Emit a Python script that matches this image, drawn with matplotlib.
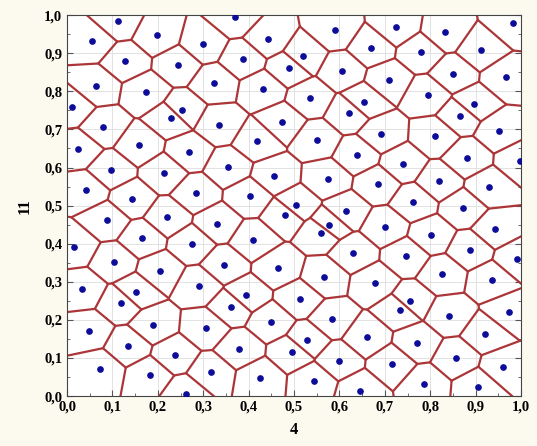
import numpy as np
import matplotlib
matplotlib.use('Agg')
import matplotlib.pyplot as plt
import matplotlib.tri as mtri
from matplotlib.ticker import FuncFormatter, MultipleLocator

# generator points (variable "4" on x, "11" on y)
x_vals = [
    0.112, 0.056, 0.198, 0.300, 0.128, 0.245, 0.324, 0.064, 0.174, 0.010, 0.253, 0.229, 0.080, 0.335,
    0.370, 0.442, 0.590, 0.387, 0.520, 0.488, 0.606, 0.432, 0.534, 0.653, 0.621, 0.474, 0.550, 0.418,
    0.724, 0.833, 0.983, 0.670, 0.779, 0.911, 0.708, 0.850, 0.967, 0.794, 0.896, 0.866, 0.692, 0.811, 0.952,
    0.025, 0.159, 0.269, 0.097, 0.214, 0.042, 0.143, 0.283, 0.087, 0.221, 0.331, 0.016, 0.166, 0.275, 0.103, 0.205,
    0.638, 0.355, 0.456, 0.574, 0.402, 0.504, 0.615, 0.480, 0.577, 0.559, 0.410, 0.630, 0.346, 0.465,
    0.739, 0.880, 0.998, 0.684, 0.819, 0.929, 0.763, 0.873, 0.701, 0.943, 0.802, 0.888, 0.747, 0.991,
    0.033, 0.151, 0.291, 0.119, 0.048, 0.189, 0.306, 0.134, 0.237, 0.073, 0.182, 0.316, 0.261,
    0.567, 0.394, 0.512, 0.362, 0.449, 0.583, 0.528, 0.660, 0.379, 0.496, 0.598, 0.425, 0.543, 0.646,
    0.826, 0.935, 0.678, 0.756, 0.733, 0.974, 0.842, 0.921, 0.771, 0.857, 0.716, 0.960, 0.787, 0.905,
]
y_vals = [
    0.985, 0.931, 0.947, 0.924, 0.879, 0.870, 0.822, 0.814, 0.798, 0.759, 0.751, 0.730, 0.706, 0.712,
    0.995, 0.938, 0.961, 0.885, 0.893, 0.861, 0.854, 0.806, 0.782, 0.773, 0.742, 0.720, 0.673, 0.669,
    0.970, 0.955, 0.979, 0.915, 0.902, 0.909, 0.830, 0.846, 0.837, 0.790, 0.766, 0.736, 0.688, 0.682, 0.696,
    0.649, 0.658, 0.640, 0.593, 0.586, 0.540, 0.517, 0.532, 0.462, 0.469, 0.453, 0.392, 0.414, 0.399, 0.352, 0.329,
    0.633, 0.601, 0.578, 0.571, 0.524, 0.501, 0.486, 0.476, 0.449, 0.429, 0.409, 0.375, 0.344, 0.337,
    0.610, 0.625, 0.618, 0.556, 0.564, 0.548, 0.509, 0.493, 0.445, 0.438, 0.422, 0.384, 0.367, 0.360,
    0.281, 0.273, 0.290, 0.243, 0.171, 0.187, 0.178, 0.131, 0.108, 0.071, 0.054, 0.062, 0.006,
    0.312, 0.265, 0.256, 0.234, 0.195, 0.202, 0.147, 0.155, 0.124, 0.115, 0.093, 0.047, 0.039, 0.014,
    0.320, 0.304, 0.297, 0.249, 0.227, 0.220, 0.211, 0.163, 0.140, 0.100, 0.084, 0.076, 0.031, 0.023,
]

x = np.array(x_vals)
y = np.array(y_vals)

# Voronoi edges from the Delaunay triangulation
tri = mtri.Triangulation(x, y)
T = tri.triangles
ax_, ay_ = x[T[:, 0]], y[T[:, 0]]
bx_, by_ = x[T[:, 1]], y[T[:, 1]]
cx_, cy_ = x[T[:, 2]], y[T[:, 2]]
d = 2 * (ax_ * (by_ - cy_) + bx_ * (cy_ - ay_) + cx_ * (ay_ - by_))
ux = ((ax_**2 + ay_**2) * (by_ - cy_) + (bx_**2 + by_**2) * (cy_ - ay_) + (cx_**2 + cy_**2) * (ay_ - by_)) / d
uy = ((ax_**2 + ay_**2) * (cx_ - bx_) + (bx_**2 + by_**2) * (ax_ - cx_) + (cx_**2 + cy_**2) * (bx_ - ax_)) / d

segments = []
for t in range(len(T)):
    for j in range(3):
        nb = tri.neighbors[t, j]
        if nb > t:
            segments.append(((ux[t], uy[t]), (ux[nb], uy[nb])))
        elif nb == -1:
            # hull edge: ray going outward from the circumcentre
            p1 = T[t, j]
            p2 = T[t, (j + 1) % 3]
            p3 = T[t, (j + 2) % 3]
            ex, ey = x[p2] - x[p1], y[p2] - y[p1]
            nx, ny = ey, -ex
            mx, my = (x[p1] + x[p2]) / 2, (y[p1] + y[p2]) / 2
            if nx * (x[p3] - mx) + ny * (y[p3] - my) > 0:
                nx, ny = -nx, -ny
            norm = np.hypot(nx, ny)
            segments.append(((ux[t], uy[t]), (ux[t] + 10 * nx / norm, uy[t] + 10 * ny / norm)))

fig = plt.figure(figsize=(5.37, 4.46), dpi=100)
fig.patch.set_facecolor('#fcfaef')
ax = fig.add_axes([0.1248, 0.112, 0.8456, 0.854])
ax.set_facecolor('white')

for (x0, y0), (x1, y1) in segments:
    ax.plot([x0, x1], [y0, y1], color='#ac3538', lw=1.6, solid_capstyle='round')

ax.plot(x, y, 'o', color='#0c0c98', markersize=3.8, zorder=3)

ax.set_xlim(0, 1)
ax.set_ylim(0, 1)
ax.xaxis.set_major_locator(MultipleLocator(0.1))
ax.yaxis.set_major_locator(MultipleLocator(0.1))
ax.xaxis.set_minor_locator(MultipleLocator(0.05))
ax.yaxis.set_minor_locator(MultipleLocator(0.05))
fmt = FuncFormatter(lambda v, p: f'{v:.1f}'.replace('.', ','))
ax.xaxis.set_major_formatter(fmt)
ax.yaxis.set_major_formatter(fmt)
ax.grid(True, which='major', color='#e2e2e2', lw=0.7)
ax.set_axisbelow(True)
ax.tick_params(which='both', direction='in', right=True, top=False, color='#555555')
ax.tick_params(which='major', length=4)
ax.tick_params(which='minor', length=2.5)
for lab in ax.get_xticklabels() + ax.get_yticklabels():
    lab.set_fontfamily('Liberation Serif')
    lab.set_fontweight('bold')
    lab.set_fontsize(10.5)
for s in ax.spines.values():
    s.set_color('#444444')
    s.set_linewidth(0.8)

ax.set_xlabel('4', fontfamily='Liberation Serif', fontweight='bold', fontsize=12, labelpad=6)
ax.set_ylabel('11', fontfamily='Liberation Serif', fontweight='bold', fontsize=12, labelpad=8)

fig.savefig('out.png', dpi=100, facecolor=fig.get_facecolor())
